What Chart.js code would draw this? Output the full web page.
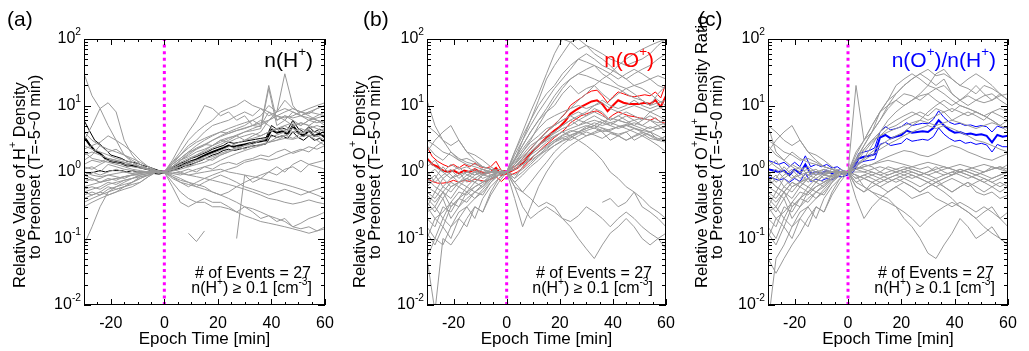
<!DOCTYPE html>
<html><head><meta charset="utf-8">
<script src="https://cdn.jsdelivr.net/npm/chart.js@4.4.1/dist/chart.umd.min.js"></script>
<style>
html,body{margin:0;padding:0;background:#fff;}
#wrap{position:relative;width:1029px;height:351px;overflow:hidden;}
.pn{position:absolute;top:0;width:343px;height:351px;}
</style></head><body>
<div id="wrap">
<div class="pn" style="left:0"><canvas id="ca"></canvas></div>
<div class="pn" style="left:343px"><canvas id="cb"></canvas></div>
<div class="pn" style="left:686px"><canvas id="cc"></canvas></div>
</div>
<script>
// ---------- data ----------
const T  = [-30,-27,-24,-21,-18,-15,-12,-9,-6,-3,0,3,6,9,12,15,18,21,24,27,30,33,36,39,42,45,48,51,54,57,60];
const TM = [-30,-28,-26,-24,-22,-20,-18,-16,-14,-12,-10,-8,-6,-4,-2,0,2,4,6,8,10,12,14,16,18,20,22,24,26,28,30,32,34,36,38,40,42,44,46,48,50,52,54,56,58,60];
const X_TICKS = [-20,0,20,40,60];
const Y_DECADES = [-2,-1,0,1,2];
const N = null;

const H_EVENTS = [
[30,14,9,5,3,1.8,1.4,1.2,1.1,1.0, 1.0,1.3,1.6,2,2.5,3,3.5,4,4.5,5, 5.5,6,5,8,6,7,6,5,6,7, 8],
[3,5,9,11,8,3,1.8,1.3,1.1,1.0, 1.0,1.5,2.5,4,6,10,9,7,8,6, 7,5,6,5,4,5,4,4.5,4,3.5, 3],
[.08,.15,.3,.5,.6,.7,.8,.9,.95,1, 1,.6,.35,.3,.35,.4,.35,.35,.3,.25, .3,.25,.2,.22,.18,.2,.15,.17,.2,.22, .25],
[.5,.45,.5,.6,.55,.6,.7,.8,.9,1, 1,.8,.7,.6,.7,.8,.9,1,1.1,1.2, 1.4,1.5,1.6,1.5,1.6,1.8,2,2.2,2,2.5, 3],
[.45,.5,.45,.55,.6,.65,.7,.85,.9,1, 1.05,1.2,1.5,1.8,2.2,2.5,3,3.5,4,4.5, 5,6,7,10,8,12,9,8,9,10, 11],
[1.5,1.8,2.5,2,2.2,1.8,1.5,1.3,1.1,1, 1,1.2,1.4,1.6,1.8,2,2.3,2.6,3,3.5, 3,3.5,4,6,8,30,10,7,6,6.5, 7],
[2,1.6,1.5,1.4,1.3,1.2,1.1,1.05,1,1, 1,1.3,1.8,2.5,3,4,5,5.5,6,7, 8,7,9,7,8,9,8,7,8,9, 10],
[.7,.8,.7,.75,.8,.85,.9,.95,1,1, 1,.9,.8,.7,.6,.55,.5,.45,.5,.6, .7,.8,.9,1,1.2,1,1.3,1.5,1.3,1.2, 1.1],
[1.2,1.1,1.3,1.5,1.4,1.3,1.2,1.15,1.1,1.05, 1,1.1,1.2,1.4,1.5,1.7,1.9,2.1,2.4,2.7, 3,3.2,3.5,4,4.5,5,5.5,5,6,5.5, 6],
[.9,1,.9,1,1.1,1,.95,1,1,1, .95,1.05,1.1,1.2,1.3,1.4,1.6,1.8,2,2.2, 2.5,2.8,3,3.3,3.6,4,4.5,4,3.5,3, 2.5],
[.6,.65,.7,.8,.75,.85,.9,.95,1,1, 1,.85,.7,.65,.6,.7,.8,.9,.8,.7, .6,.55,.5,.45,.5,.55,.5,.45,.5,.55, .6],
[2.5,2.2,2,1.8,1.6,1.5,1.4,1.2,1.1,1, 1,1.4,2,3,4,5,6,8,9,10, 12,10,9,8,7,8,9,8,7,6, 5],
[.4,.45,.5,.45,.5,.6,.65,.7,.85,1, 1,.95,.9,1,1.1,1.2,1.3,1.5,1.7,1.9, 2.1,2.3,2.5,2.8,3,3.5,4,3.8,4.5,5, 4.5],
[1.3,1.5,1.4,1.6,1.5,1.4,1.3,1.2,1.1,1, 1,1.1,1.3,1.5,1.8,2.1,2.5,3,3.3,3.5, 4,4.2,4.5,18,5,6,5,5.5,5,4.5, 4],
[.55,.6,.55,.65,.7,.75,.8,.9,.95,1, 1,1,.95,.9,.85,.8,.75,.7,.65,.6, .55,.5,.45,.4,.38,.35,.33,.35,.38,.35, .33],
[1.8,2,1.8,1.6,1.5,1.4,1.3,1.2,1.1,1.05, 1,1.2,1.5,1.9,2.3,2.6,2.5,3,2.8,3.2, 3.5,3.8,3.5,4,4.5,4.2,4.8,5.5,5,6, 5.5],
[.35,.4,.45,.5,.55,.6,.7,.8,.9,1, 1,.95,1,1.1,1,1.2,1.1,1.3,1.4,1.3, 1.5,1.6,1.8,1.7,2,2.2,1.9,2.1,2.4,2.2, 2.5],
[1,.9,.85,.9,.95,1,.95,1,1,1, 1,1.15,1.3,1.2,1.4,1.6,1.5,1.8,2,2.4, 2.2,2.6,3,2.8,3.3,3.6,3.2,3.8,4.2,3.9, 4.5],
[.8,.75,.8,.9,.85,.8,.9,.95,1,1, 1,.85,.75,.7,.65,.6,.5,.45,.4,.35, .3,.28,.25,.22,.2,.18,.15,.14,.15,.13, .15],
[N,N,N,N,N,N,N,N,N,N, N,N,N,.12,.09,.13,N,N,N,N, N,N,N,N,N,N,N,N,N,N, N],
[N,N,N,N,N,N,N,N,N,N, N,N,N,N,N,N,N,N,N,.1, .9,.7,.8,1,.9,1.1,1.2,1,1.3,1.4, 1.5],
[1.1,1.2,1,1.3,1.2,1.1,1.05,1,1,1, 1,1.3,1.6,2,2.2,2.6,3,3.4,3.8,4.2, 4.5,5,5.5,6,7,6.5,7,8,7.5,9, 10],
[.3,.35,.4,.45,.5,.55,.6,.7,.85,1, 1,.7,.5,.4,.35,.35,.3,.3,.28,.25, .22,.2,.18,.17,.16,.15,.14,.13,.12,.13, .14],
[4,3,2.5,2.2,2,1.8,1.6,1.4,1.2,1.05, 1,1.2,1.5,1.7,2,2.2,2.5,2.8,3.2,3.6, 4,4.5,5,6,7,6,8,7,6.5,6, 5.5],
[.9,.8,.7,.75,.8,.85,.9,.9,.95,1, 1,1.1,1,.9,.95,1,1.05,1.1,1,.95, .9,.85,.8,.75,.7,.65,.6,.55,.5,.45, .4],
[.5,.55,.6,.7,.65,.75,.8,.85,.9,1, 1,1.1,1.2,1.3,1.5,1.6,1.7,1.9,2.1,2.3, 2.5,2.4,2.6,2.8,3,3.2,3.1,3.4,3.6,3.4, 3.8],
[2.2,2.5,2.8,3.5,3,2.5,2,1.5,1.2,1.05, 1,1.4,1.8,2.3,2.8,3.2,3.6,4,3.8,4.2, 4.6,5,4.8,20,6,7,6.5,7,8,7.5, 7]
];
const H_MEAN = [3.4,2.6,2.1,1.9,1.6,1.45,1.4,1.35,1.25,1.25, 1.2,1.15,1.1,1.05,1,1,1.1,1.15,1.25,1.35, 1.45,1.55,1.7,1.85,2,2.15,2.3,2.5,2.4,2.5, 2.6,2.7,2.8,2.9,3,4.3,3.9,4.1,3.7,5, 3.9,3.5,4.2,3.5,3.8,3.3];
const H_UP   = [6,4.2,3,2.6,2.2,1.8,1.7,1.6,1.45,1.4, 1.35,1.25,1.2,1.12,1.05,1.03,1.15,1.22,1.35,1.45, 1.6,1.7,1.85,2,2.2,2.35,2.5,2.8,2.7,2.8, 2.9,3,3.1,3.2,3.3,5,4.4,4.6,4.3,6, 4.5,4,4.8,4,4.4,4];
const H_LO   = [1,.95,1,1.05,1,1.05,1.05,1.05,1,1.05, 1,1,.98,.95,.93,.97,1.03,1.08,1.15,1.25, 1.3,1.4,1.5,1.65,1.8,1.9,2.1,2.2,2.1,2.2, 2.3,2.4,2.5,2.55,2.65,3.6,3.3,3.5,3.2,4, 3.3,3,3.5,3,3.2,2.8];

const O_EVENTS = [
[12,5,3,2,1.5,1.3,1.2,1.1,1,1, 1,1.5,3,6,12,25,40,60,90,70, 80,60,50,40,30,25,30,35,40,50, 60],
[.3,.5,.4,.6,.7,.8,.7,.9,1,1.1, 1,2,4,8,15,30,60,100,90,100, 80,70,60,50,45,40,45,50,60,80, 100],
[.2,.15,.3,.25,.4,.5,.6,.7,.8,1, 1,1.3,2,3,5,8,12,18,25,30, 35,40,30,25,20,18,20,22,25,28, 25],
[.05,.1,.08,.15,.2,.3,.4,.5,.7,.9, 1,1.2,1.5,2,2.5,3,4,5,6,5, 6,7,6,5,6,7,6,5,6,5, 4],
[.5,.4,.6,.5,.7,.6,.8,.7,.9,1, 1,.8,1.2,1.8,2.5,3,3.5,4,3.5,4, 4.5,5,4,3,3.5,4,3,3.5,4,3, 3.5],
[2,3,4,5,3,2,1.5,1.2,1.1,1, 1,1.5,2.5,4,6,8,10,15,20,15, 18,20,15,12,15,18,15,12,10,15, 20],
[1.5,1.2,1,.8,.9,1,1.1,.9,1,1, 1,.7,.5,.4,.3,.35,.3,.2,.15,.1, .07,.05,.08,.12,.15,.2,.15,.1,.08,.1, .07],
[.1,.2,.15,.3,.4,.35,.5,.6,.8,.9, 1,.6,.3,.2,.25,.3,.25,.2,.18,.22, .3,.25,.2,.15,.2,.25,.2,.15,.12,.1, .12],
[N,N,N,N,N,N,N,N,N,N, N,N,N,N,N,N,N,N,N,N, N,N,.35,.4,.3,.35,.5,.3,.25,.2, .15],
[.6,.5,.8,.6,.7,.9,.8,.95,1,1, 1,1.4,2,2.8,3.5,4.5,5,6,7,8, 7,9,8,6,7,8,7,6,8,7, 6],
[.3,.2,.25,.35,.5,.45,.6,.7,.85,1, 1,1.3,1.8,2.5,3,3.5,4,5,6,7, 8,10,12,10,9,10,12,10,9,10, 8],
[.9,1.1,.8,1,1.2,.9,1,.8,.9,1, 1,1.1,1.3,1.6,2,2.4,3,3.3,3.6,4, 3.5,3.8,4.2,4,3.7,4,4.5,4.2,4,4.5, 5],
[.15,.1,.2,.15,.25,.3,.2,.4,.6,.8, 1,.8,1,1.3,1.7,2.2,2.8,3.5,4,4.5, 5,4.5,5.5,5,4.5,5,5.5,5,4.5,5, 5.5],
[3,2.5,2,1.8,1.5,1.6,1.4,1.2,1.1,1, 1,1.6,2.5,4,6,9,14,20,25,30, 28,25,22,20,18,15,13,12,10,11, 12],
[.4,.3,.5,.4,.6,.5,.7,.6,.8,.9, 1,1.2,1.5,2,2.6,3.2,3.8,4.5,5,6, 5.5,5,6,5.5,5,4.5,4,3.5,3,2.5, 2],
[.05,.008,.1,.08,.12,.2,.3,.25,.5,.8, 1,.7,.9,1.2,1.5,2,2.5,3,3.5,3, 2.5,2,1.5,1,.8,.6,.5,.4,.3,.25, .2],
[.8,.6,.5,.7,.6,.8,.7,.9,.85,1, 1,1.3,1.7,2.2,3,4,5,7,9,12, 15,20,25,30,40,50,60,70,80,90, 100],
[2.5,1.8,1.5,2,1.6,1.4,1.3,1.2,1.1,1, 1,1.2,1.6,2.2,3,4,5,6,7,6, 7,8,7,6,7,6,5,6,7,6, 5],
[.25,.3,.2,.35,.3,.4,.5,.45,.7,.9, 1,.4,.15,.3,.6,1,1.5,2,2.5,3, 3.5,4,4.5,4,3.5,3,3.5,4,3.5,3, 3.5],
[5,4,3,2.5,3,2,1.8,1.5,1.2,1, 1,1.8,3,5,8,12,18,25,35,50, 60,50,40,35,30,25,20,18,15,12, 10],
[.7,.9,.6,.8,1,.7,.9,1.1,.9,1, 1,1.2,1.4,1.8,2.2,2.8,3.4,4,4.5,5, 5.5,6,5.5,6.5,6,5.5,6,6.5,6,5.5, 6],
[.12,.08,.15,.1,.2,.15,.3,.25,.45,.7, 1,.9,1.1,1.4,1.8,2.3,2.8,3.2,3,3.5, 4,3.6,3.2,3.8,3.5,3,3.4,3.8,3.2,3, 2.8],
[1.2,1.5,1,1.3,1.1,1.2,1,1.1,1,1, 1,1.5,2.2,3.2,4.5,6,7,8,9,10, 9,10,11,9,8,9,10,9,8,9, 10],
[.45,.35,.5,.3,.4,.6,.5,.65,.8,.95, 1,1.1,1.3,1.6,2,2.5,3,3.6,4.2,4, 4.5,5,4.6,4.2,4.8,5.2,4.6,4.2,4.8,4.4, 4.8],
[.6,.8,1.2,.9,.7,.8,1,.9,1.1,1, 1,.6,.5,.7,1,1.4,2,2.6,3.2,4, 4.8,5.5,5,5.5,6,5.5,5,4.5,4,3.5, 3],
[1,.7,.9,1.1,.8,1,.9,1,1,1, 1,2,3.5,6,10,15,20,30,40,50, 45,40,35,30,25,30,35,30,25,20, 18],
[.35,.25,.4,.2,.3,.5,.4,.55,.75,.9, 1,1.1,1.3,1.5,1.8,2.1,2.5,2.9,3.3,3.8, 4.2,4.6,4,4.4,4.8,5,4.5,4,3.6,3.2, 3]
];
const O_MEAN = [1.6,1.3,1.2,1.05,1,1.05,.95,1.05,1,1.1, 1,.95,1,1.15,.9,.95,1.05,1.15,1.35,1.7, 2.1,2.5,3,3.6,4.2,4.8,5.8,7.5,8.5,9.5, 10.5,11.5,12,10.5,8.2,10,12,11,10.5,10.5, 10.5,11,10.5,12,9.5,14];
const O_UP   = [2.4,1.7,1.45,1.3,1.2,1.3,1.15,1.3,1.2,1.35, 1.2,1.15,1.2,1.45,1.05,1.05,1.15,1.3,1.6,2, 2.5,3,3.7,4.4,5.2,6.2,7.5,10,11.5,13, 15,16.5,17,14,11,13.5,16,15,14,13.5, 14,14.5,14,16,13,21.6];
const O_LO   = [.8,.72,.68,.68,.7,.75,.7,.75,.72,.78, .75,.72,.78,.85,.72,.85,.92,1,1.15,1.4, 1.7,2,2.4,2.8,3.3,3.8,4.4,5.5,6.2,7, 7.5,8,8.3,7.5,6.2,7.2,8,7.5,7,6.8, 6.5,6.3,6,6.5,5.6,5.4];

const R_EVENTS = [
[5,2,1.5,1.2,1,1.1,.9,1,1,1, 1,20,3,4,6,10,15,20,25,30, 25,20,25,15,12,15,20,15,12,15, 12],
[.3,.5,.4,.6,.7,.8,.7,.9,1,1.1, 1,1.5,2.5,4,8,12,20,25,30,25, 20,30,35,25,20,18,15,20,18,15, 12],
[.2,.15,.3,.25,.4,.5,.6,.7,.8,1, 1,1.2,1.6,2.5,4,6,8,10,12,14, 15,12,10,8,10,9,8,7,8,9, 8],
[.005,.05,.08,.15,.2,.3,.4,.5,.7,.9, 1,1.1,1.2,1.3,1.4,1.5,1.4,1.3,1.2,1.1, 1.2,1,.9,1,1.1,1,.9,1,1.1,1.2, 1],
[.5,.4,.6,.5,.7,.6,.8,.7,.9,1, 1,.8,.9,1,.9,.8,.7,.8,.9,.8, .7,.6,.7,.8,.7,.6,.7,.8,.7,.6, .7],
[2,3,4,5,3,2,1.5,1.2,1.1,1, 1,1.5,2.2,3,4,5,6,7,8,7, 6,7,8,9,8,7,8,7,6,5, 6],
[1.5,1.2,1,.8,.9,1,1.1,.9,1,1, 1,.7,.6,.5,.45,.4,.3,.2,.15,.1, .06,.05,.08,.12,.2,.15,.1,.12,.15,.1, .08],
[.1,.2,.15,.3,.4,.35,.5,.6,.8,.9, 1,.6,.5,.6,.7,.8,.9,.8,.7,.6, .7,.8,.6,.5,.6,.7,.5,.45,.5,.4, .45],
[.8,.6,.5,.7,.6,.8,.7,.9,.85,1, 1,1.1,1.3,1.2,1,.9,1,1.1,1,.9, 1,1.2,1,.9,1.1,1,.9,1,1.2,1.1, 1.3],
[.6,.5,.8,.6,.7,.9,.8,.95,1,1, 1,1.4,2,2.8,3.5,4.5,5,6,7,8, 7,9,8,6,7,8,7,6,8,7, 6],
[.3,.2,.25,.35,.5,.45,.6,.7,.85,1, 1,.9,.8,.7,.6,.5,.6,.5,.4,.45, .5,.4,.35,.3,.35,.3,.25,.3,.25,.2, .25],
[.9,1.1,.8,1,1.2,.9,1,.8,.9,1, 1,1.2,1.5,1.8,2.2,2.6,3,3.5,4,4.5, 5,4.5,5,4.5,4,3.5,3,2.8,2.5,2.2, 2],
[.15,.1,.2,.15,.25,.3,.2,.4,.6,.8, 1,.8,.9,.8,.7,.8,.9,1,1.1,1, .9,.8,.9,1,.9,.8,.9,.8,.7,.8, .9],
[3,2.5,2,1.8,1.5,1.6,1.4,1.2,1.1,1, 1,1.6,2.5,4,6,9,12,15,14,12, 15,18,20,15,12,10,12,14,15,12, 10],
[.4,.3,.5,.4,.6,.5,.7,.6,.8,.9, 1,1,1,1.1,1.2,1.1,1,.9,.8,.9, 1,1.1,1.2,1.1,1,1.1,1.2,1.3,1.2,1.1, 1],
[.05,.03,.05,.08,.12,.2,.3,.25,.5,.8, 1,.7,.8,.9,1,1.2,1.1,1,.9,.8, .7,.6,.5,.4,.3,.25,.2,.25,.3,.2, .15],
[.8,.6,.5,.7,.6,.8,.7,.9,.85,1, 1,1.3,1.6,2,2.5,3,3.5,4,5,6, 8,10,12,10,12,14,12,11,12,14, 15],
[2.5,1.8,1.5,2,1.6,1.4,1.3,1.2,1.1,1, 1,1.2,1.1,1,.9,1,1.1,1.2,1.1,1, .9,1,1.1,1.2,1.3,1.2,1.1,1,1.1,1.2, 1.1],
[.25,.3,.2,.35,.3,.4,.5,.45,.7,.9, 1,.4,.2,.3,.4,.5,.6,.7,.6,.5, .6,.7,.6,.5,.6,.7,.6,.5,.6,.7, .6],
[5,4,3,2.5,3,2,1.8,1.5,1.2,1, 1,1.8,3,5,8,10,12,10,12,15, 20,18,15,12,10,9,8,7,6,5, 4],
[.7,.9,.6,.8,1,.7,.9,1.1,.9,1, 1,1.1,1,.9,.8,.7,.8,.9,1,.9, .8,.7,.8,.9,1,1.1,1,.9,.8,.9, 1],
[.12,.08,.15,.1,.2,.15,.3,.25,.45,.7, 1,.9,.6,.5,.4,.35,.3,.25,.2,.15, .2,.25,.3,.35,.3,.25,.2,.15,.12,.1, .08],
[1.2,1.5,1,1.3,1.1,1.2,1,1.1,1,1, 1,1.5,2.2,3,3.5,4,4.5,5,5.5,6, 5.5,5,5.5,6,5.5,5,4.5,5,5.5,5, 4.5],
[.45,.35,.5,.3,.4,.6,.5,.65,.8,.95, 1,1.1,1.2,1.3,1.5,1.7,1.9,2.1,2,1.8, 1.7,1.9,2.2,2.5,2.3,2,1.8,1.6,1.5,1.7, 1.9],
[.6,.8,1.2,.9,.7,.8,1,.9,1.1,1, 1,.6,.5,.7,.8,.9,1,1.1,1.2,1.3, 1.4,1.3,1.2,1.1,1,.9,.8,.7,.8,.9, 1],
[1,.7,.9,1.1,.8,1,.9,1,1,1, 1,2,3,5,8,12,15,20,25,30, 35,28,30,25,20,25,30,25,20,15, 12],
[.35,.25,.4,.2,.3,.5,.4,.55,.75,.9, 1,.9,.8,.7,.6,.7,.8,.7,.6,.5, .6,.7,.8,.9,1,.9,.8,.7,.6,.5, .6]
];
const R_MEAN = [1.1,1.05,1,1.05,.9,1.1,.95,1.3,.95,1, .95,1.05,.95,1.05,.95,.95,1.1,1.6,1.7,1.75, 1.85,3.3,3.6,3.2,3.4,3.6,4.2,3.9,4,4.1, 4,4.6,6,5,4.3,3.9,4,3.7,3.8,3.6, 3.7,3.5,2.8,3.6,3.4,3.5];
const R_UP   = [1.5,1.4,1.3,1.4,1.2,1.4,1.2,1.75,1.2,1.3, 1.2,1.3,1.15,1.2,1.05,1,1.2,1.9,2,2.1, 2.3,4,4.8,4.3,4.5,4.8,5.5,5,5.2,5.4, 5.3,6.2,8.3,6.6,5.6,5.2,5.4,5,5.1,4.8, 5,4.8,4,4.9,4.6,4.8];
const R_LO   = [.85,.8,.75,.8,.7,.8,.72,.95,.72,.78, .74,.8,.76,.85,.85,.9,1,1.35,1.45,1.5, 1.55,2.6,2.8,2.5,2.6,2.7,3.2,2.9,3,3.1, 3,3.4,4.6,3.7,3.2,2.9,3,2.7,2.8,2.6, 2.7,2.55,2,2.6,2.4,2.4];

// ---------- drawing ----------
const FAM = "'Liberation Sans', Arial, Helvetica, sans-serif";

function parts(str){
  const out=[]; const re=/\^\{([^}]*)\}/g; let last=0, m;
  while((m=re.exec(str))){ if(m.index>last) out.push({t:str.slice(last,m.index)}); out.push({t:m[1],sup:true}); last=re.lastIndex; }
  if(last<str.length) out.push({t:str.slice(last)});
  return out;
}
function rich(ctx, str, x, y, size, align, color){
  const segs = parts(str).map(p=>{
    const s = p.sup ? size*0.64 : size;
    ctx.font = s+'px '+FAM;
    return {t:p.t, s, w:ctx.measureText(p.t).width, dy:p.sup ? -size*0.42 : 0};
  });
  const W = segs.reduce((a,g)=>a+g.w,0);
  let cx = align==='right' ? x-W : align==='center' ? x-W/2 : x;
  ctx.fillStyle=color; ctx.textAlign='left'; ctx.textBaseline='middle';
  segs.forEach(g=>{ ctx.font=g.s+'px '+FAM; ctx.fillText(g.t,cx,y+g.dy); cx+=g.w; });
}

const deco = {
  id:'deco',
  afterDraw(chart, args, o){
    const ctx=chart.ctx, ca=chart.chartArea, xs=chart.scales.x, ys=chart.scales.y;
    ctx.save();
    ctx.strokeStyle='#000'; ctx.lineWidth=1;
    ctx.strokeRect(ca.left+0.5, ca.top+0.5, ca.right-ca.left-1, ca.bottom-ca.top-1);
    ctx.beginPath();
    for(let v=-30; v<=60; v+=5){
      const px=Math.round(xs.getPixelForValue(v))+0.5, L=(v%20===0)?6:3;
      ctx.moveTo(px,ca.bottom); ctx.lineTo(px,ca.bottom-L);
      ctx.moveTo(px,ca.top); ctx.lineTo(px,ca.top+L);
    }
    for(let d=-2; d<2; d++) for(let k=1;k<10;k++){
      const py=Math.round(ys.getPixelForValue(k*Math.pow(10,d)))+0.5, L=(k===1)?7:4;
      ctx.moveTo(ca.left,py); ctx.lineTo(ca.left+L,py);
      ctx.moveTo(ca.right,py); ctx.lineTo(ca.right-L,py);
    }
    ctx.stroke();
    Y_DECADES.forEach(e=>rich(ctx,'10^{'+e+'}',ca.left-3,ys.getPixelForValue(Math.pow(10,e)),16,'right','#000'));
    rich(ctx,o.letter,o.letterX,20,21,'left','#000');
    ctx.save(); ctx.translate(ca.left-o.t1dx,288); ctx.rotate(-Math.PI/2);
    rich(ctx,o.title1,0,0,16.5,'left','#000'); ctx.restore();
    ctx.save(); ctx.translate(ca.left-o.t2dx,259); ctx.rotate(-Math.PI/2);
    rich(ctx,o.title2,0,0,16.5,'left','#000'); ctx.restore();
    rich(ctx,o.label,ca.right-12,61,21,'right',o.color);
    rich(ctx,'# of Events = '+o.nEvents,ca.right-14,274,16,'right','#000');
    rich(ctx,'n(H^{+}) \u2265 0.1 [cm^{-3}]',ca.right-13,289,16,'right','#000');
    ctx.restore();
  }
};

function makeChart(id, events, mean, up, lo, color, cfg){
  const ds=[];
  events.forEach(ev=>ds.push({data:ev.map((v,i)=>({x:T[i],y:v})),borderColor:'#999999',borderWidth:1,pointRadius:0,spanGaps:false}));
  ds.push({data:[{x:0,y:0.01},{x:0,y:100}],borderColor:'#ff00ff',borderWidth:3,borderDash:[3,3.6],pointRadius:0});
  [up,lo].forEach(a=>ds.push({data:a.map((v,i)=>({x:TM[i],y:v})),borderColor:color,borderWidth:1,pointRadius:0}));
  ds.push({data:mean.map((v,i)=>({x:TM[i],y:v})),borderColor:color,borderWidth:2,pointRadius:0});
  return new Chart(document.getElementById(id),{
    type:'line',
    data:{datasets:ds},
    options:{
      responsive:true, maintainAspectRatio:false, animation:false, devicePixelRatio:1,
      layout:{padding:{left:0,right:cfg.padR,top:39,bottom:0}},
      elements:{line:{tension:0}},
      plugins:{legend:{display:false},tooltip:{enabled:false},deco:Object.assign({nEvents:events.length,color},cfg)},
      scales:{
        x:{type:'linear',min:-30,max:60,
           afterBuildTicks:s=>{s.ticks=X_TICKS.map(v=>({value:v}));},
           afterFit:s=>{s.height=46;},
           grid:{display:false,drawTicks:false},border:{display:false},
           ticks:{font:{size:16,family:FAM},color:'#000',padding:9,maxRotation:0,autoSkip:false},
           title:{display:true,text:'Epoch Time [min]',font:{size:17,family:FAM},color:'#000',padding:{top:0,bottom:1}}},
        y:{type:'logarithmic',min:0.01,max:100,
           afterFit:s=>{s.width=cfg.yW;},
           grid:{display:false,drawTicks:false},border:{display:false},
           ticks:{display:false}}
      }
    },
    plugins:[deco]
  });
}

makeChart('ca',H_EVENTS,H_MEAN,H_UP,H_LO,'#000000',{yW:84,padR:18,letter:'(a)',letterX:7,t1dx:64,t2dx:49,
  title1:'Relative Value of H^{+} Density',title2:'to Preonset (T=-5~0 min)',label:'n(H^{+})'});
makeChart('cb',O_EVENTS,O_MEAN,O_UP,O_LO,'#ff0000',{yW:84,padR:20,letter:'(b)',letterX:20,t1dx:67,t2dx:52,
  title1:'Relative Value of O^{+} Density',title2:'to Preonset (T=-5~0 min)',label:'n(O^{+})'});
makeChart('cc',R_EVENTS,R_MEAN,R_UP,R_LO,'#0000ff',{yW:82,padR:21,letter:'(c)',letterX:12,t1dx:66,t2dx:51,
  title1:'Relative Value of O^{+}/H^{+} Density Ratio',title2:'to Preonset (T=-5~0 min)',label:'n(O^{+})/n(H^{+})'});
</script>
</body></html>
